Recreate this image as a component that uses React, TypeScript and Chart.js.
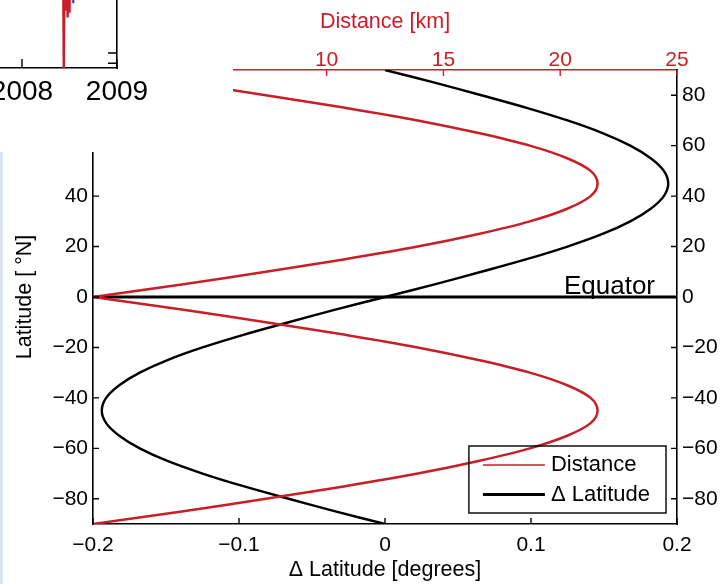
import { useEffect, useRef } from 'react';
import { Chart, registerables } from 'chart.js';

Chart.register(...registerables);

// ---- Latitude profile: geodetic minus geocentric latitude and the matching ground distance ----
const latitude = [
  -90, -85, -80, -75, -70, -65, -60, -55, -50, -45, -40, -35, -30, -25, -20, -15, -10, -5, 0,
  5, 10, 15, 20, 25, 30, 35, 40, 45, 50, 55, 60, 65, 70, 75, 80, 85, 90,
];
const deltaLatitude = [
  0, -0.034, -0.066, -0.097, -0.125, -0.149, -0.168, -0.182, -0.191, -0.194, -0.191, -0.182,
  -0.168, -0.149, -0.125, -0.097, -0.066, -0.034, 0,
  0.034, 0.066, 0.097, 0.125, 0.149, 0.168, 0.182, 0.191, 0.194, 0.191, 0.182, 0.168, 0.149,
  0.125, 0.097, 0.066, 0.034, 0,
];
const distanceKm = [
  0, 3.8, 7.4, 10.8, 13.9, 16.5, 18.7, 20.3, 21.3, 21.6, 21.3, 20.3, 18.7, 16.5, 13.9, 10.8, 7.4,
  3.8, 0,
  3.8, 7.4, 10.8, 13.9, 16.5, 18.7, 20.3, 21.3, 21.6, 21.3, 20.3, 18.7, 16.5, 13.9, 10.8, 7.4,
  3.8, 0,
];

const deltaTicks = [-0.2, -0.1, 0, 0.1, 0.2];
const distanceTicks = [0, 5, 10, 15, 20, 25];
const latitudeTicks = [-80, -60, -40, -20, 0, 20, 40, 60, 80];
const latitudeRange = [-90, 90];
const equatorLatitude = 0;

// ---- Corner of the time-series panel that sits above the profile ----
const insetYears = [2007, 2008, 2009];
const insetYearRange = [2006, 2009];
const insetRedYears = [
  2006.2, 2007.5, 2008.3, 2008.43, 2008.44, 2008.45, 2008.46, 2008.47, 2008.48, 2008.49, 2008.5,
  2008.51, 2008.7, 2008.95,
];
const insetRedValues = [0.8, 0.75, 0.7, 0.6, 0.0, 0.6, 0.24, 0.55, 0.21, 0.5, 0.23, 0.6, 0.8, 0.85];
const insetBlueYears = [2006.2, 2008.53, 2008.54, 2008.55, 2008.95];
const insetBlueValues = [0.9, 0.9, 0.27, 0.9, 0.9];
const insetValueTicks = [0.02, 0.0625];

const FONT = '"Liberation Sans", Arial, Helvetica, sans-serif';
const RED = '#c81e28';
const BLACK = '#000000';

const signed = (v: number) => (v < 0 ? '\u2212' + Math.abs(v) : String(v));
const fixedTicks = (values: number[]) => (scale: any) => {
  scale.ticks = values.map((value) => ({ value }));
};
const toPoints = (xs: number[], ys: number[]) => xs.map((x, i) => ({ x, y: ys[i] }));

// MATLAB-style tick marks that point into the plot box
const inwardTicks = {
  id: 'inwardTicks',
  afterDatasetsDraw(chart: any, _args: any, opts: any) {
    const { ctx, chartArea } = chart;
    const len = opts.length ?? 6;
    Object.values(chart.scales).forEach((s: any) => {
      if (!s.options.display) return;
      ctx.save();
      ctx.strokeStyle = s.options.border.color;
      ctx.lineWidth = 1.4;
      ctx.beginPath();
      s.ticks.forEach((t: any) => {
        const p = s.getPixelForValue(t.value);
        if (s.position === 'bottom') {
          ctx.moveTo(p, chartArea.bottom);
          ctx.lineTo(p, chartArea.bottom - len);
        } else if (s.position === 'top') {
          ctx.moveTo(p, chartArea.top);
          ctx.lineTo(p, chartArea.top + len);
        } else if (s.position === 'left') {
          ctx.moveTo(chartArea.left, p);
          ctx.lineTo(chartArea.left + len, p);
        } else if (s.position === 'right') {
          ctx.moveTo(chartArea.right, p);
          ctx.lineTo(chartArea.right - len, p);
        }
      });
      ctx.stroke();
      ctx.restore();
    });
  },
};

// Boxed legend in the lower-right corner plus the equator label
const profileDecor = {
  id: 'profileDecor',
  afterDatasetsDraw(chart: any) {
    const { ctx, chartArea } = chart;
    const yScale = chart.scales.y;
    ctx.save();

    const eqY = yScale.getPixelForValue(equatorLatitude);
    ctx.font = `26px ${FONT}`;
    ctx.fillStyle = BLACK;
    ctx.textAlign = 'right';
    ctx.textBaseline = 'alphabetic';
    ctx.fillText('Equator', chartArea.right - 22, eqY - 3.5);

    const entries = chart.data.datasets.filter((d: any) => d.inLegend);
    ctx.font = `22px ${FONT}`;
    const textW = Math.max(...entries.map((e: any) => ctx.measureText(e.label).width));
    const padL = 14;
    const lineLen = 62;
    const gap = 6;
    const padR = 16;
    const rowH = 29.5;
    const padT = 19;
    const w = padL + lineLen + gap + textW + padR;
    const h = 67;
    const right = chartArea.right - 11;
    const bottom = chartArea.bottom - 11;
    const left = right - w;
    const top = bottom - h;
    ctx.strokeStyle = BLACK;
    ctx.lineWidth = 1.4;
    ctx.strokeRect(left, top, w, h);
    entries.forEach((e: any, i: number) => {
      const cy = top + padT + i * rowH;
      ctx.strokeStyle = e.borderColor;
      ctx.lineWidth = e.legendLineWidth;
      ctx.beginPath();
      ctx.moveTo(left + padL, cy);
      ctx.lineTo(left + padL + lineLen, cy);
      ctx.stroke();
      ctx.fillStyle = BLACK;
      ctx.textAlign = 'left';
      ctx.textBaseline = 'middle';
      ctx.fillText(e.label, left + padL + lineLen + gap, cy);
    });
    ctx.restore();
  },
};

function ProfileChart() {
  const ref = useRef<HTMLCanvasElement>(null);
  useEffect(() => {
    const canvas = ref.current;
    if (!canvas) return;
    const eqIdx = latitude.indexOf(equatorLatitude);
    const distPoints = toPoints(distanceKm, latitude);
    const deltaPoints = toPoints(deltaLatitude, latitude);
    const line = { showLine: true, pointRadius: 0, pointHoverRadius: 0, fill: false };

    const tickFont = { family: FONT, size: 21 };
    const titleFont = { family: FONT, size: 21.5 };
    const base = {
      type: 'linear',
      grid: { display: false, drawTicks: false },
    };

    const chart = new Chart(canvas, {
      type: 'scatter',
      data: {
        datasets: [
          {
            ...line,
            label: 'Distance',
            data: distPoints.slice(eqIdx),
            xAxisID: 'x2',
            yAxisID: 'y',
            borderColor: RED,
            borderWidth: 2.5,
            tension: 0.35,
            order: 0,
            inLegend: true,
            legendLineWidth: 1.6,
          },
          {
            ...line,
            label: 'Distance',
            data: distPoints.slice(0, eqIdx + 1),
            xAxisID: 'x2',
            yAxisID: 'y',
            borderColor: RED,
            borderWidth: 2.5,
            tension: 0.35,
            order: 0,
          },
          {
            ...line,
            label: '\u0394 Latitude',
            data: deltaPoints,
            xAxisID: 'x',
            yAxisID: 'y',
            borderColor: BLACK,
            borderWidth: 2.4,
            tension: 0.35,
            order: 1,
            inLegend: true,
            legendLineWidth: 2.8,
          },
          {
            ...line,
            label: 'Equator',
            data: [
              { x: deltaTicks[0], y: equatorLatitude },
              { x: deltaTicks[deltaTicks.length - 1], y: equatorLatitude },
            ],
            xAxisID: 'x',
            yAxisID: 'y',
            borderColor: BLACK,
            borderWidth: 2.8,
            tension: 0,
            order: 2,
          },
        ],
      } as any,
      options: {
        responsive: false,
        animation: false,
        devicePixelRatio: 1,
        events: [],
        layout: { padding: 0 },
        plugins: {
          legend: { display: false },
          tooltip: { enabled: false },
          inwardTicks: { length: 6 },
        } as any,
        scales: {
          x: {
            ...base,
            position: 'bottom',
            min: deltaTicks[0],
            max: deltaTicks[deltaTicks.length - 1],
            afterBuildTicks: fixedTicks(deltaTicks),
            afterFit: (s: any) => {
              s.height = 60;
            },
            border: { display: true, color: BLACK, width: 1.6 },
            ticks: {
              autoSkip: false,
              maxRotation: 0,
              padding: 9,
              color: BLACK,
              font: tickFont,
              callback: (v: any) => signed(Number(v)),
            },
            title: {
              display: true,
              text: '\u0394 Latitude [degrees]',
              color: BLACK,
              font: titleFont,
              padding: { top: 0, bottom: 1.5 },
            },
          },
          x2: {
            ...base,
            position: 'top',
            min: distanceTicks[0],
            max: distanceTicks[distanceTicks.length - 1],
            afterBuildTicks: fixedTicks(distanceTicks),
            afterFit: (s: any) => {
              s.height = 70;
            },
            border: { display: true, color: RED, width: 1.6 },
            ticks: {
              autoSkip: false,
              maxRotation: 0,
              padding: -3.3,
              color: RED,
              font: tickFont,
              callback: (v: any) => signed(Number(v)),
            },
            title: {
              display: true,
              text: 'Distance [km]',
              color: RED,
              font: titleFont,
              padding: { top: 9.6, bottom: 0 },
            },
          },
          y: {
            ...base,
            position: 'left',
            min: latitudeRange[0],
            max: latitudeRange[1],
            afterBuildTicks: fixedTicks(latitudeTicks),
            afterFit: (s: any) => {
              s.width = 93;
            },
            border: { display: true, color: BLACK, width: 1.6 },
            ticks: {
              autoSkip: false,
              padding: 5,
              color: BLACK,
              font: tickFont,
              callback: (v: any) => signed(Number(v)),
            },
            title: {
              display: true,
              text: 'Latitude [ \u00b0N]',
              color: BLACK,
              font: titleFont,
              padding: { top: 12.6, bottom: 0 },
            },
          },
          y2: {
            ...base,
            position: 'right',
            min: latitudeRange[0],
            max: latitudeRange[1],
            afterBuildTicks: fixedTicks(latitudeTicks),
            afterFit: (s: any) => {
              s.width = 44;
            },
            border: { display: true, color: BLACK, width: 1.6 },
            ticks: {
              autoSkip: false,
              padding: 5,
              color: BLACK,
              font: tickFont,
              callback: (v: any) => signed(Number(v)),
            },
          },
        } as any,
      },
      plugins: [inwardTicks, profileDecor],
    });
    return () => chart.destroy();
  }, []);
  return <canvas ref={ref} width={721} height={584} style={{ display: 'block' }} />;
}

function TimeSeriesCorner() {
  const ref = useRef<HTMLCanvasElement>(null);
  useEffect(() => {
    const canvas = ref.current;
    if (!canvas) return;
    const line = { showLine: true, pointRadius: 0, pointHoverRadius: 0, fill: false, tension: 0 };
    const chart = new Chart(canvas, {
      type: 'scatter',
      data: {
        datasets: [
          {
            ...line,
            data: toPoints(insetBlueYears, insetBlueValues),
            borderColor: '#2433a8',
            borderWidth: 2,
          },
          {
            ...line,
            data: toPoints(insetRedYears, insetRedValues),
            borderColor: RED,
            borderWidth: 2.4,
          },
        ],
      },
      options: {
        responsive: false,
        animation: false,
        devicePixelRatio: 1,
        events: [],
        layout: { padding: { left: 85, right: 90, top: 10, bottom: 0 } },
        plugins: {
          legend: { display: false },
          tooltip: { enabled: false },
          inwardTicks: { length: 9 },
        } as any,
        scales: {
          x: {
            type: 'linear',
            position: 'bottom',
            min: insetYearRange[0],
            max: insetYearRange[1],
            afterBuildTicks: fixedTicks(insetYears),
            afterFit: (s: any) => {
              s.height = 50;
            },
            grid: { display: false, drawTicks: false },
            border: { display: true, color: BLACK, width: 1.6 },
            ticks: {
              autoSkip: false,
              maxRotation: 0,
              padding: 7.5,
              color: BLACK,
              font: { family: FONT, size: 28 },
              callback: (v: any) => String(v),
            },
          },
          y: {
            type: 'linear',
            position: 'right',
            min: 0,
            max: 1,
            afterBuildTicks: fixedTicks(insetValueTicks),
            afterFit: (s: any) => {
              s.width = 0;
            },
            grid: { display: false, drawTicks: false },
            border: { display: true, color: BLACK, width: 1.6 },
            ticks: { display: false },
          },
        } as any,
      },
      plugins: [inwardTicks],
    });
    return () => chart.destroy();
  }, []);
  return (
    <canvas
      ref={ref}
      width={460}
      height={300}
      style={{ position: 'absolute', left: -253, top: -182, display: 'block' }}
    />
  );
}

export default function App() {
  return (
    <div
      style={{
        position: 'fixed',
        left: 0,
        top: 0,
        width: 721,
        height: 584,
        background: '#ffffff',
        overflow: 'hidden',
      }}
    >
      <ProfileChart />
      <div
        style={{
          position: 'absolute',
          left: 0,
          top: 0,
          width: 233,
          height: 152,
          background: '#ffffff',
          overflow: 'hidden',
        }}
      >
        <TimeSeriesCorner />
      </div>
      <div
        style={{
          position: 'absolute',
          left: 0,
          top: 152,
          width: 3,
          height: 432,
          background: '#dde3f3',
        }}
      />
    </div>
  );
}
